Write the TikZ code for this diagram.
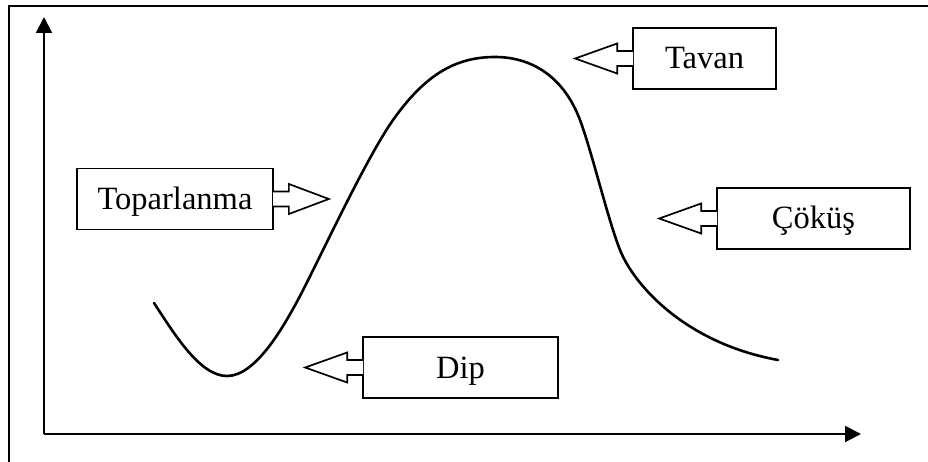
\documentclass[tikz,border=0pt]{standalone}
\usepackage{fontspec}
\setmainfont{Liberation Serif}
\usetikzlibrary{arrows.meta,calc}
\begin{document}
\begin{tikzpicture}[x=1pt,y=-1pt,
  box/.style={draw=black,line width=1.7pt,fill=white,inner sep=0pt,
    minimum height=61pt,text height=22pt,text depth=1pt,
    font=\fontsize{32.5}{38}\selectfont},
  callout/.style={draw=black,line width=1.7pt,line join=miter,fill=white},
  axis/.style={line width=2pt,-{Triangle[length=16pt,width=16pt]}},
  curve/.style={line width=2.6pt,line cap=round}]
\useasboundingbox (0,0) rectangle (928,462);
% frame
\draw[line width=2.2pt] (9,462) -- (9,6) -- (928,6);
% axes
\coordinate (O) at (44,434);
\coordinate (ytop) at (44,17);
\coordinate (xend) at (861,434);
\draw[axis] (O) -- (ytop);
\draw[axis] (O) -- (xend);
% curve
\draw[curve] (154,303) .. controls (175,335) and (200,376) .. (227,376)
  .. controls (255,376) and (282,330) .. (300,296)
  .. controls (318,262) and (365,160) .. (393,120)
  .. controls (425,75) and (455,57) .. (495,57)
  .. controls (535,57) and (565,80) .. (580,120)
  .. controls (592,152) and (608,220) .. (620,250)
  .. controls (634,285) and (685,343) .. (778,360);
% boxes
\node[box,minimum width=143pt] (tavan) at (704.5,58.5) {Tavan};
\node[box,minimum width=196pt] (topar) at (175,199) {Toparlanma};
\node[box,minimum width=193pt] (cokus) at (813.5,218.5) {Çöküş};
\node[box,minimum width=195pt] (dip) at (460.5,367.5) {Dip};
% callout arrows (pointing left)
\foreach \n in {tavan,cokus,dip}{
  \draw[callout] ($(\n.west)+(0.85,-7.5)$) -- ++(-15.85,0) -- ++(0,-7.5)
     -- ++(-42,15) -- ++(42,15) -- ++(0,-7.5) -- ++(15.85,0);
}
% callout arrow (pointing right)
\draw[callout] ($(topar.east)+(-0.85,-7.5)$) -- ++(15.85,0) -- ++(0,-7.5)
   -- ++(40,15) -- ++(-40,15) -- ++(0,-7.5) -- ++(-15.85,0);
\end{tikzpicture}
\end{document}
